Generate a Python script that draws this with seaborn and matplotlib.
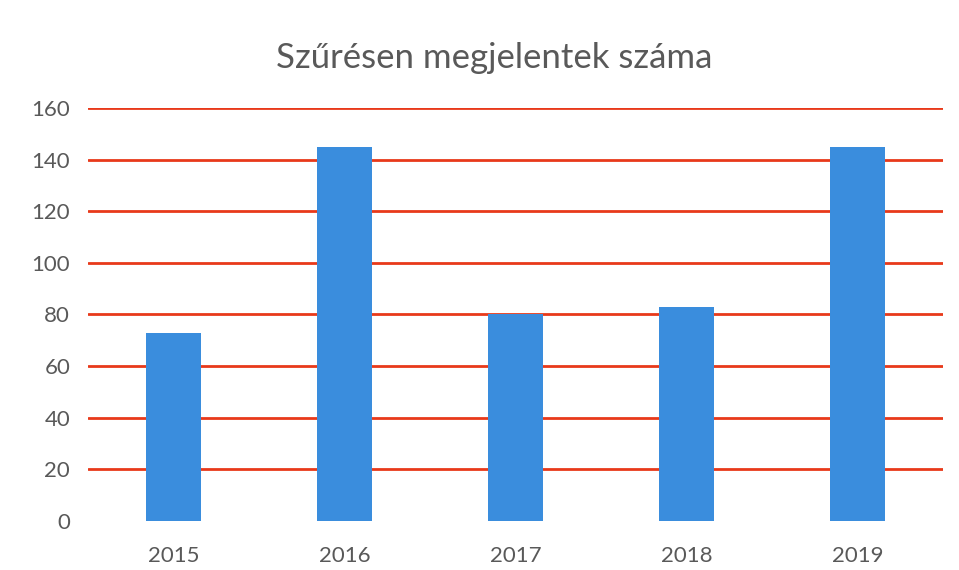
import matplotlib
matplotlib.use("Agg")
import matplotlib.pyplot as plt
import seaborn as sns
import pandas as pd

years = ["2015", "2016", "2017", "2018", "2019"]
values = [73, 145, 80, 83, 145]
yticks = [0, 20, 40, 60, 80, 100, 120, 140, 160]
title = "Szűrésen megjelentek száma"

sns.set_theme(style="white")
plt.rcParams['font.family'] = ['Lato', 'DejaVu Sans']

df = pd.DataFrame({"year": years, "value": values})

fig = plt.figure(figsize=(9.59, 5.70), dpi=100)
ax = fig.add_axes([0.092, 0.086, 0.891, 0.7245])

sns.barplot(data=df, x="year", y="value", color="#3a8ddd", width=0.32,
            saturation=1, linewidth=0, edgecolor="none", ax=ax, zorder=3)

ax.set_ylim(0, 160)
ax.set_yticks(yticks)
ax.set_yticklabels([str(t) for t in yticks])
for t in yticks[1:]:
    ax.axhline(t, color="#e8391a", linewidth=2, zorder=1)

for s in ax.spines.values():
    s.set_visible(False)
ax.set_xlabel("")
ax.set_ylabel("")
ax.tick_params(axis="y", length=0, pad=13, labelsize=16, labelcolor="#595959")
ax.tick_params(axis="x", length=0, pad=18, labelsize=16, labelcolor="#595959")
ax.set_xlim(-0.5, 4.5)

fig.text(0.515, 0.898, title, ha="center", va="center", fontsize=25, color="#595959")

fig.savefig("out.png", dpi=100, facecolor="white")
